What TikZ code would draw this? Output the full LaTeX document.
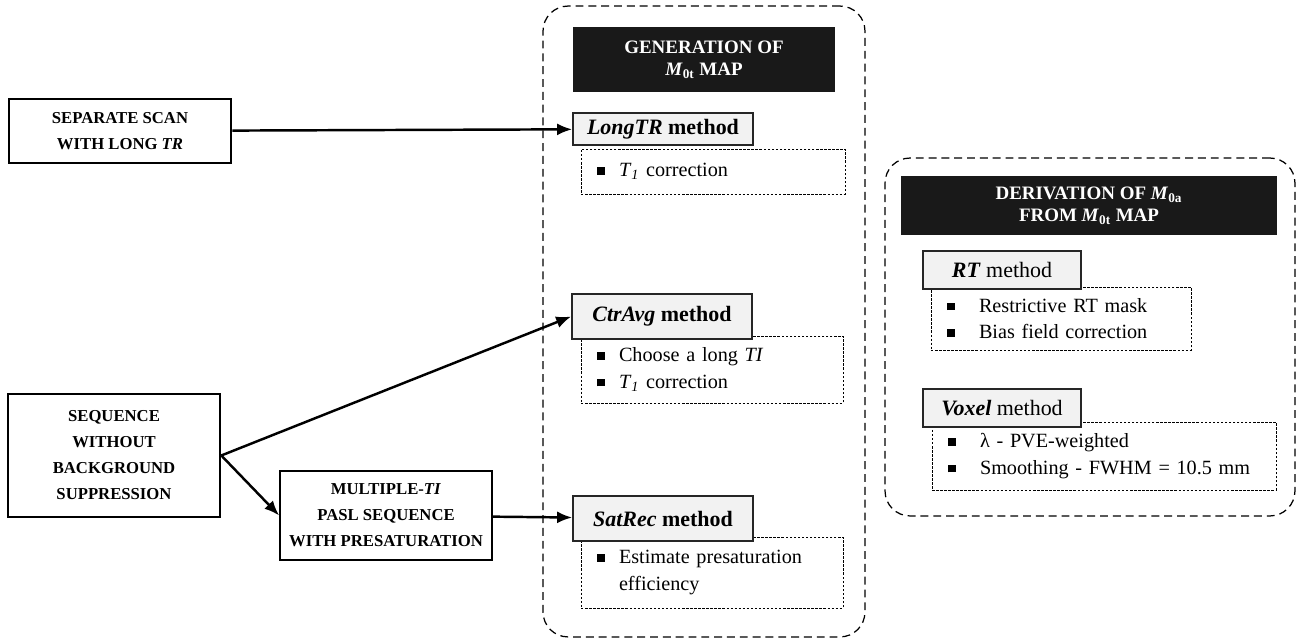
\documentclass[tikz,border=0pt]{standalone}
\usepackage{fontspec}
\setmainfont{Liberation Serif}
\usetikzlibrary{arrows.meta}
\newcommand{\sqbul}[1][0.44cm]{\makebox[#1][l]{\rule[0.1em]{0.37em}{0.37em}}}
\newcommand{\Mz}[1]{\textit{M}\textsubscript{#1}}
\newcommand{\Tone}{\textit{T}\textsubscript{\textit{1}}}

\begin{document}
\begin{tikzpicture}[x=0.02cm, y=-0.02cm,
	frame/.style={draw, line width=0.7pt, dash pattern=on 4.5pt off 2.8pt, rounded corners=0.5cm, inner sep=0},
	header/.style={fill=black!90, text=white, align=center, inner sep=0, font=\bfseries\fontsize{10.8}{12.5}\selectfont},
	source/.style={draw, line width=1.5pt, align=center, inner sep=0, font=\bfseries\fontsize{9.5}{14.8}\selectfont},
	method/.style={draw=black!85, fill=gray!10, line width=1pt, inner sep=0, font=\fontsize{12.5}{14}\selectfont},
	detail/.style={draw, line width=0.5pt, dash pattern=on 1.4pt off 0.9pt, align=left, inner xsep=0.32cm, inner ysep=0, font=\fontsize{11.5}{15.2}\selectfont},
	link/.style={-{Latex[length=0.3cm,width=0.24cm]}, line width=1.4pt}]
	\useasboundingbox (0,0) rectangle (1296,641);

	\node[frame, minimum width=6.44cm, minimum height=12.62cm]	(genframe)	at (704,321.5)	{};
	\node[frame, minimum width=8.2cm, minimum height=7.16cm]	(derframe)	at (1090,337)	{};

	\node[source, minimum width=4.44cm, minimum height=1.28cm]	(scan)	at (120,131)	{SEPARATE SCAN\\WITH LONG \textit{TR}};
	\node[source, minimum width=4.24cm, minimum height=2.46cm]	(seq)	at (114,455.5)	{SEQUENCE\\WITHOUT\\BACKGROUND\\SUPPRESSION};
	\node[source, line width=1pt, minimum width=4.24cm, minimum height=1.78cm]	(multi)	at (386,515.5)	{MULTIPLE-\textit{TI}\\PASL SEQUENCE\\WITH PRESATURATION};

	\node[header, minimum width=5.24cm, minimum height=1.3cm]	(genhead)	at (704,59.5)	{GENERATION OF\\\Mz{0t} MAP};
	\node[detail, text width=4.64cm, minimum height=0.9cm]	(longtrdet)	at (713,171.5)	{\sqbul\Tone{} correction};
	\node[method, font=\bfseries\fontsize{12.5}{14}\selectfont, minimum width=3.6cm, minimum height=0.64cm]	(longtr)	at (663,129)	{\textit{LongTR} method};
	\node[detail, text width=4.6cm, minimum height=1.34cm]	(ctravgdet)	at (712,369.5)	{\sqbul Choose a long \textit{TI}\\\sqbul\Tone{} correction};
	\node[method, font=\bfseries\fontsize{12.5}{14}\selectfont, minimum width=3.6cm, minimum height=0.9cm]	(ctravg)	at (662,316.5)	{\textit{CtrAvg} method};
	\node[detail, text width=4.6cm, minimum height=1.42cm]	(satrecdet)	at (712,572.5)	{\sqbul Estimate presaturation\\\hspace*{0.44cm}efficiency};
	\node[method, font=\bfseries\fontsize{12.5}{14}\selectfont, minimum width=3.6cm, minimum height=0.9cm]	(satrec)	at (663,518.5)	{\textit{SatRec} method};

	\node[header, minimum width=7.52cm, minimum height=1.18cm]	(derhead)	at (1089,205.5)	{DERIVATION OF \Mz{0a}\\FROM \Mz{0t} MAP};
	\node[detail, text width=4.56cm, minimum height=1.26cm]	(rtdet)	at (1061,318.5)	{\sqbul[0.64cm]Restrictive RT mask\\\sqbul[0.64cm]Bias field correction};
	\node[method, minimum width=3.16cm, minimum height=0.76cm]	(rt)	at (1002,270)	{\textbf{\textit{RT}} method};
	\node[detail, text width=6.24cm, minimum height=1.36cm]	(voxeldet)	at (1104,456)	{\sqbul[0.64cm]λ - PVE-weighted\\\sqbul[0.64cm]Smoothing - FWHM = 10.5 mm};
	\node[method, minimum width=3.16cm, minimum height=0.76cm]	(voxel)	at (1002,408)	{\textbf{\textit{Voxel}} method};

	\path[link]
	(scan)		edge	(longtr)
	(seq.east)	edge	(ctravg.west)
				edge	(multi.west)
	(multi)		edge	(satrec);
\end{tikzpicture}
\end{document}
